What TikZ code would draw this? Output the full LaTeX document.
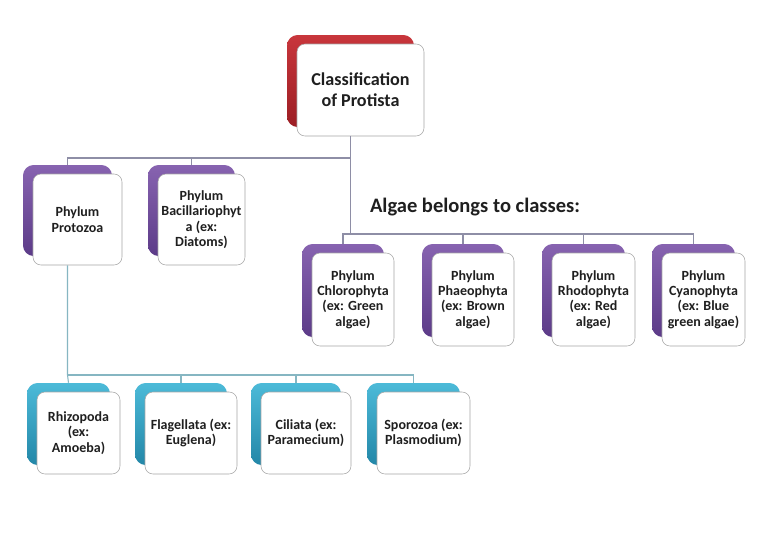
\documentclass[tikz,border=0pt]{standalone}
\usepackage{fontspec}
\setmainfont{Carlito}
\usetikzlibrary{calc}

\definecolor{redA}{HTML}{C8363C}
\definecolor{redB}{HTML}{9C1E24}
\definecolor{purA}{HTML}{8763B0}
\definecolor{purB}{HTML}{5C3B88}
\definecolor{tealA}{HTML}{4CBAD8}
\definecolor{tealB}{HTML}{2387A8}
\definecolor{lineP}{HTML}{8E8EA6}
\definecolor{lineT}{HTML}{86B6C2}

\begin{document}
\begin{tikzpicture}[x=0.75pt, y=-0.75pt,
	boxsize/.style 2 args={minimum width={#1*0.75pt}, minimum height={#2*0.75pt}},
	back/.style={rounded corners=8pt, inner sep=0pt},
	redback/.style={back, top color=redA, bottom color=redB},
	purback/.style={back, top color=purA, bottom color=purB},
	tealback/.style={back, top color=tealA, bottom color=tealB},
	front/.style={draw=black!35, fill=white, rounded corners=6pt, inner sep=0pt, align=center,
		text=black!88, font=\bfseries\fontsize{10.5}{11.6}\selectfont},
	topline/.style={draw=lineP, line width=0.8pt},
	lowline/.style={draw=lineT, line width=0.8pt}]
	\useasboundingbox[fill=white] (0,0) rectangle (768,540);
	% top of the tree
	\node[redback, boxsize={127}{92}] (mainb) at (350.5,81) {};
	\node[front, boxsize={127}{92}, font=\bfseries\fontsize{13.6}{15.5}\selectfont] (main) at (360.5,90) {Classification\\of Protista};
	% second row
	\node[purback, boxsize={89}{91}] (protb) at (67.5,210.5) {};
	\node[front, boxsize={89}{91}] (prot) at (77.5,219.5) {Phylum\\Protozoa};
	\node[purback, boxsize={87}{91}] (bacib) at (191.5,210.5) {};
	\node[front, boxsize={87}{91}] (baci) at (201.5,219.5) {Phylum\\Bacillariophyt\\a (ex:\\Diatoms)};
	\node[font=\bfseries\fontsize{15.4}{18}\selectfont, text=black!88] (algae) at (475,207) {Algae belongs to classes:};
	% algae classes
	\node[purback, boxsize={82}{93}] (chlob) at (343,290.5) {};
	\node[front, boxsize={82}{93}] (chlo) at (353,299.5) {Phylum\\Chlorophyta\\(ex: Green\\algae)};
	\node[purback, boxsize={82}{93}] (phaeb) at (463,290.5) {};
	\node[front, boxsize={82}{93}] (phae) at (473,299.5) {Phylum\\Phaeophyta\\(ex: Brown\\algae)};
	\node[purback, boxsize={83}{93}] (rhodb) at (583.5,290.5) {};
	\node[front, boxsize={83}{93}] (rhod) at (593.5,299.5) {Phylum\\Rhodophyta\\(ex: Red\\algae)};
	\node[purback, boxsize={83}{93}] (cyanb) at (693.5,290.5) {};
	\node[front, boxsize={83}{93}] (cyan) at (703.5,299.5) {Phylum\\Cyanophyta\\(ex: Blue\\green algae)};
	% protozoa classes
	\node[tealback, boxsize={83}{82}] (rhizb) at (68.5,424) {};
	\node[front, boxsize={83}{82}] (rhiz) at (78.5,433) {Rhizopoda\\(ex:\\Amoeba)};
	\node[tealback, boxsize={92}{82}] (flagb) at (181,424) {};
	\node[front, boxsize={92}{82}] (flag) at (191,433) {Flagellata (ex:\\Euglena)};
	\node[tealback, boxsize={90}{82}] (cilib) at (296,424) {};
	\node[front, boxsize={90}{82}] (cili) at (306,433) {Ciliata (ex:\\Paramecium)};
	\node[tealback, boxsize={93}{82}] (sporb) at (413.5,424) {};
	\node[front, boxsize={93}{82}] (spor) at (423.5,433) {Sporozoa (ex:\\Plasmodium)};
	% connectors
	\coordinate (bus1) at (350.5,158);
	\coordinate (bus2) at (350.5,234);
	\coordinate (bus3) at (67.5,375);
	\draw[topline] (main.south -| mainb.south) -- (bus1) -- (bus2);
	\draw[topline] (bus1) -| (protb.north);
	\draw[topline] (bus1) -| (bacib.north);
	\draw[topline] (bus2) -| (chlob.north);
	\draw[topline] (bus2) -| (phaeb.north);
	\draw[topline] (bus2) -| (rhodb.north);
	\draw[topline] (bus2) -| (cyanb.north);
	\draw[lowline] (prot.south -| protb.south) -- (bus3) -- (rhizb.north);
	\draw[lowline] (bus3) -| (flagb.north);
	\draw[lowline] (bus3) -| (cilib.north);
	\draw[lowline] (bus3) -| (sporb.north);
\end{tikzpicture}
\end{document}
